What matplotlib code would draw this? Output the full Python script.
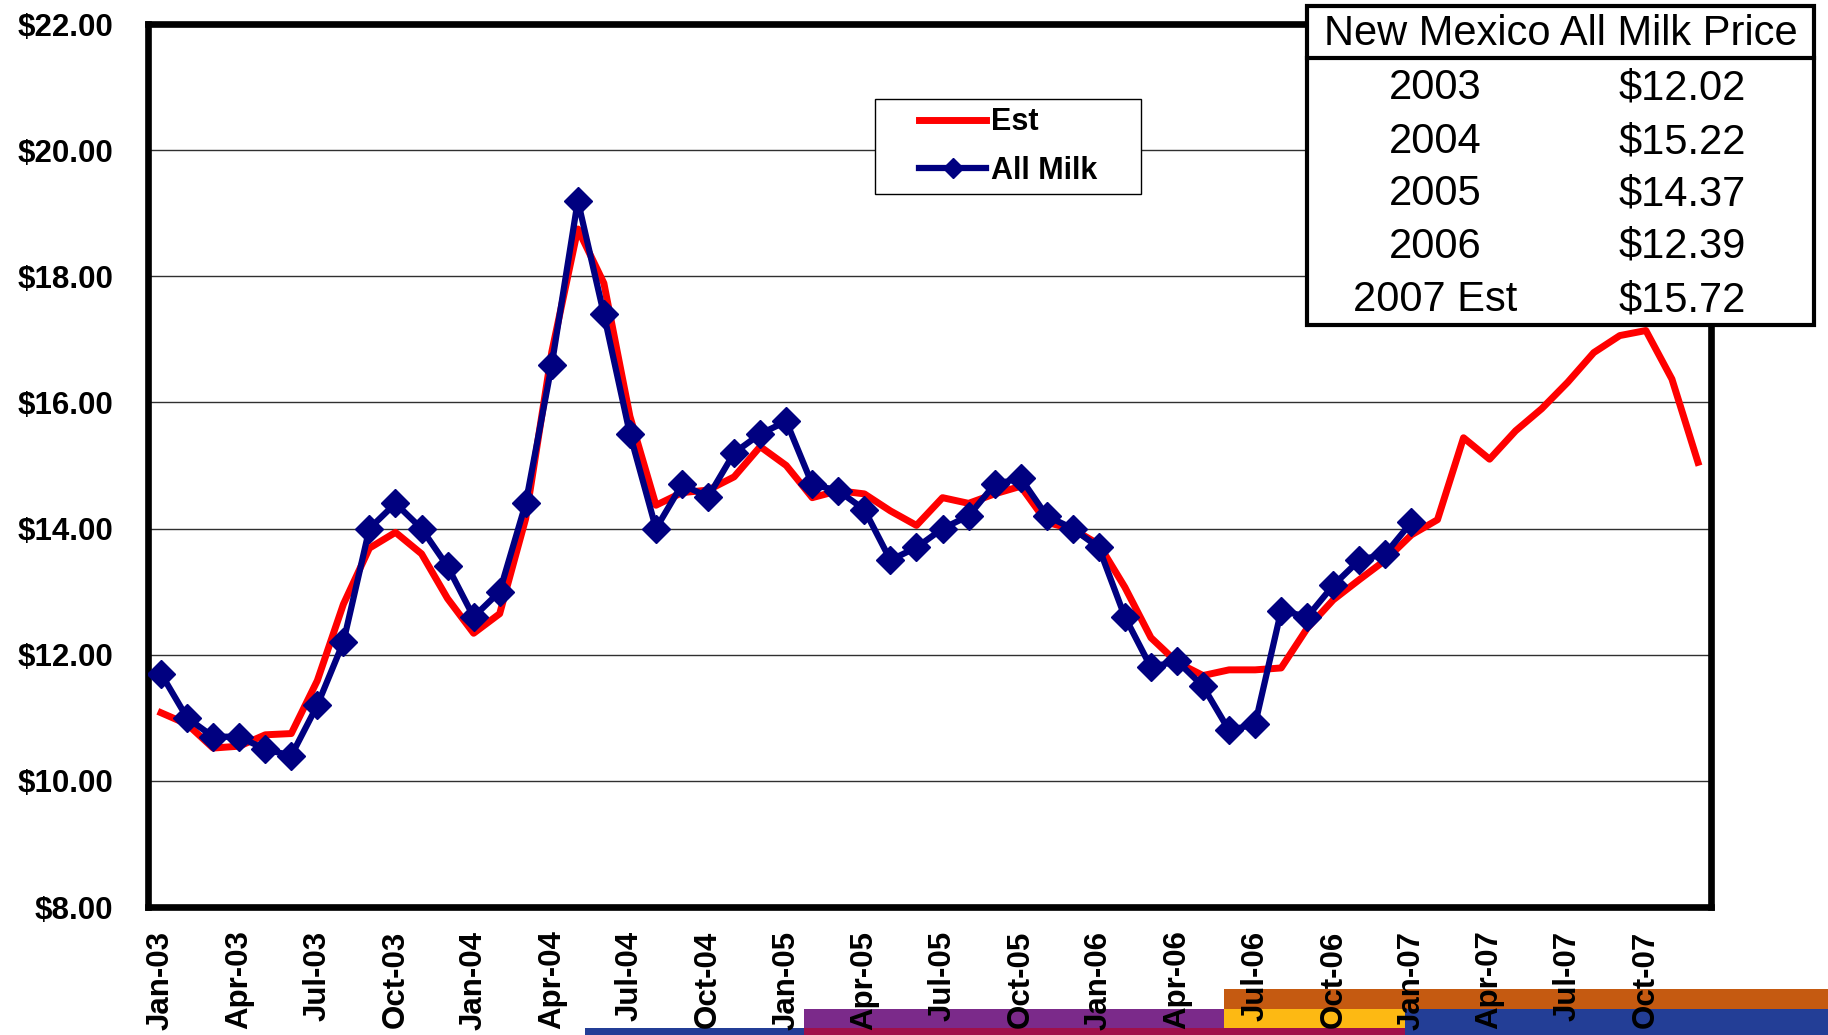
import matplotlib
matplotlib.use("Agg")
import matplotlib.pyplot as plt
from matplotlib.patches import Rectangle
from matplotlib.lines import Line2D

plt.rcParams['font.family'] = ['Liberation Sans', 'DejaVu Sans']

# ---------------- data ----------------
months = ['Jan-03', 'Feb-03', 'Mar-03', 'Apr-03', 'May-03', 'Jun-03', 'Jul-03', 'Aug-03', 'Sep-03', 'Oct-03', 'Nov-03', 'Dec-03',
          'Jan-04', 'Feb-04', 'Mar-04', 'Apr-04', 'May-04', 'Jun-04', 'Jul-04', 'Aug-04', 'Sep-04', 'Oct-04', 'Nov-04', 'Dec-04',
          'Jan-05', 'Feb-05', 'Mar-05', 'Apr-05', 'May-05', 'Jun-05', 'Jul-05', 'Aug-05', 'Sep-05', 'Oct-05', 'Nov-05', 'Dec-05',
          'Jan-06', 'Feb-06', 'Mar-06', 'Apr-06', 'May-06', 'Jun-06', 'Jul-06', 'Aug-06', 'Sep-06', 'Oct-06', 'Nov-06', 'Dec-06',
          'Jan-07', 'Feb-07', 'Mar-07', 'Apr-07', 'May-07', 'Jun-07', 'Jul-07', 'Aug-07', 'Sep-07', 'Oct-07', 'Nov-07', 'Dec-07']

est = [11.08, 10.90, 10.52, 10.55, 10.73, 10.75, 11.59, 12.80, 13.69, 13.94, 13.60, 12.89,
       12.34, 12.65, 14.16, 16.80, 18.75, 17.89, 15.78, 14.37, 14.57, 14.61, 14.82, 15.30,
       15.00, 14.49, 14.60, 14.55, 14.28, 14.05, 14.49, 14.40, 14.55, 14.67, 14.10, 13.99,
       13.75, 13.07, 12.27, 11.88, 11.67, 11.76, 11.76, 11.79, 12.42, 12.87, 13.19, 13.50,
       13.90, 14.14, 15.44, 15.10, 15.55, 15.90, 16.32, 16.79, 17.06, 17.14, 16.37, 15.05]

all_milk = [11.7, 11.0, 10.7, 10.7, 10.5, 10.4, 11.2, 12.2, 14.0, 14.4, 14.0, 13.4,
            12.6, 13.0, 14.4, 16.6, 19.2, 17.4, 15.5, 14.0, 14.7, 14.5, 15.2, 15.5,
            15.7, 14.7, 14.6, 14.3, 13.5, 13.7, 14.0, 14.2, 14.7, 14.8, 14.2, 14.0,
            13.7, 12.6, 11.8, 11.9, 11.5, 10.8, 10.9, 12.7, 12.6, 13.1, 13.5, 13.6,
            14.1]

tick_labels = ['Jan-03', 'Apr-03', 'Jul-03', 'Oct-03', 'Jan-04', 'Apr-04', 'Jul-04', 'Oct-04',
               'Jan-05', 'Apr-05', 'Jul-05', 'Oct-05', 'Jan-06', 'Apr-06', 'Jul-06', 'Oct-06',
               'Jan-07', 'Apr-07', 'Jul-07', 'Oct-07']
y_ticks = [8, 10, 12, 14, 16, 18, 20, 22]

table_title = 'New Mexico All Milk Price'
table_years = ['2003', '2004', '2005', '2006', '2007 Est']
table_prices = ['$12.02', '$15.22', '$14.37', '$12.39', '$15.72']

# ---------------- figure ----------------
W, H = 1828.0, 1035.0
fig = plt.figure(figsize=(18.28, 10.35), dpi=100)
fig.patch.set_facecolor('white')

# decorative template bars at the bottom (behind everything)
def fig_rect(x0, y0, x1, y1, color, z=-1):
    fig.add_artist(Rectangle((x0 / W, 1 - y1 / H), (x1 - x0) / W, (y1 - y0) / H,
                             transform=fig.transFigure, facecolor=color,
                             edgecolor='none', zorder=z))

fig_rect(585, 1028, 804, 1035, '#233E96')
fig_rect(804, 1009, 1224, 1028, '#7B2A8A')
fig_rect(804, 1028, 1405, 1035, '#A0104A')
fig_rect(1224, 989, 1828, 1009, '#C55A11')
fig_rect(1224, 1009, 1405, 1028, '#FDB913')
fig_rect(1405, 1009, 1828, 1035, '#233E96')

ax = fig.add_axes([148 / W, 1 - 907 / H, (1711 - 148) / W, (907 - 24) / H])
ax.set_facecolor('white')

x = list(range(len(months)))
ax.plot(x, est, color='#FF0000', lw=5, zorder=3, label='Est')
ax.plot(x[:len(all_milk)], all_milk, color='#000080', lw=4.5, marker='D', ms=14,
        mec='#000080', mfc='#000080', zorder=4, label='All Milk')

ax.set_xlim(-0.5, len(months) - 0.5)
ax.set_ylim(8, 22)
ax.set_yticks(y_ticks)
ax.set_yticklabels(['${:.2f}'.format(v) for v in y_ticks], fontsize=22.5, fontweight='bold')
ax.set_xticks([months.index(t) for t in tick_labels])
ax.set_xticklabels(tick_labels, rotation=90, fontsize=22.5, fontweight='bold', va='top')
ax.tick_params(axis='both', length=0)
ax.tick_params(axis='x', pad=17)
ax.tick_params(axis='y', pad=25)

ax.yaxis.grid(True, color='#303030', lw=1)
ax.set_axisbelow(True)
for s in ax.spines.values():
    s.set_linewidth(4.8)
    s.set_color('black')

# legend with a square frame
lx0, ly0, lx1, ly1 = 875, 99, 1141, 194
fig.add_artist(Rectangle((lx0 / W, 1 - ly1 / H), (lx1 - lx0) / W, (ly1 - ly0) / H,
                         transform=fig.transFigure, facecolor='white', edgecolor='black',
                         lw=1, zorder=5))
leg = fig.legend(loc='center', bbox_to_anchor=((lx0 + lx1) / 2 / W, 1 - (ly0 + ly1) / 2 / H),
                 frameon=False, prop={'weight': 'bold', 'size': 22}, handlelength=2.2,
                 handletextpad=0.15, labelspacing=0.6, markerscale=0.75)
leg.set_zorder(6)

# summary table
tx0, ty0, tx1, ty1 = 1307, 6, 1814, 325
fig.add_artist(Rectangle((tx0 / W, 1 - ty1 / H), (tx1 - tx0) / W, (ty1 - ty0) / H,
                         transform=fig.transFigure, facecolor='white', edgecolor='black',
                         lw=3, zorder=7))
fig.add_artist(Line2D([tx0 / W, tx1 / W], [1 - 58 / H, 1 - 58 / H], transform=fig.transFigure,
                      color='black', lw=3, zorder=8))
fig.text((tx0 + tx1) / 2 / W, 1 - 34 / H, table_title, ha='center', va='center',
         fontsize=30, zorder=9)
row_y = [88, 142, 194, 247, 300]
for yy, yr, pr in zip(row_y, table_years, table_prices):
    fig.text(1435 / W, 1 - yy / H, yr, ha='center', va='center', fontsize=30, zorder=9)
    fig.text(1682 / W, 1 - yy / H, pr, ha='center', va='center', fontsize=30, zorder=9)

fig.savefig('out.png', dpi=100)
